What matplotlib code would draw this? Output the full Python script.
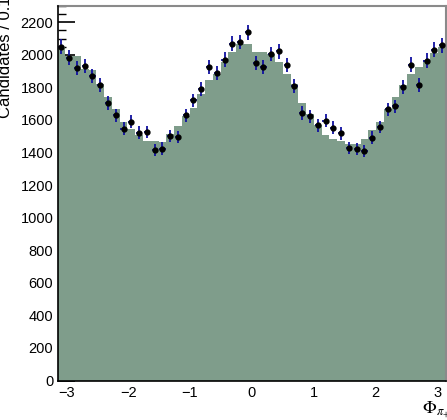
import matplotlib
matplotlib.use("Agg")
import matplotlib.pyplot as plt
import numpy as np

plt.rcParams['font.family'] = ['Liberation Sans', 'DejaVu Sans']
plt.rcParams['mathtext.fontset'] = 'stix'

# 50 bins in phi over [-pi, pi]
n_bins = 50
edges = np.linspace(-np.pi, np.pi, n_bins + 1)
centers = 0.5 * (edges[:-1] + edges[1:])

# measured candidates per bin
data = [2049, 1983, 1920, 1930, 1870, 1817, 1705, 1629, 1547, 1588,
        1522, 1526, 1414, 1424, 1502, 1496, 1629, 1721, 1789, 1926,
        1889, 1971, 2069, 2079, 2140, 1950, 1926, 2006, 2022, 1936,
        1809, 1643, 1624, 1567, 1596, 1553, 1518, 1430, 1420, 1411,
        1491, 1557, 1666, 1684, 1801, 1940, 1813, 1965, 2032, 2059]

# model histogram
model = [2050, 1995, 1990, 1915, 1905, 1823, 1742, 1670, 1588, 1547,
         1506, 1470, 1472, 1465, 1512, 1561, 1627, 1676, 1758, 1848,
         1881, 1957, 2018, 2069, 2069, 2015, 2015, 2007, 1957, 1881,
         1820, 1704, 1635, 1570, 1506, 1482, 1473, 1455, 1452, 1485,
         1537, 1585, 1670, 1740, 1815, 1883, 1926, 1970, 2010, 2050]

fig = plt.figure(figsize=(4.47, 4.20), dpi=100)
ax = fig.add_axes([57.5 / 447, 1 - 380.5 / 420, (446 - 57.5) / 447, (380.5 - 6) / 420])
ax.set_axisbelow(True)  # fill hides the ticks, like the ROOT canvas

ax.stairs(model, edges, fill=True, color='#7f9d8b', zorder=1)

data = np.array(data)
ax.errorbar(centers, data, yerr=np.sqrt(data), xerr=0.5 * (edges[1] - edges[0]) * 0.8,
            fmt='o', color='black', ms=3.5, ecolor='#1010a0', elinewidth=1.3,
            capsize=0, zorder=3)

ax.set_xlim(-np.pi, np.pi)
ax.set_ylim(0, 2300)
ax.set_yticks(np.arange(0, 2201, 200))
ax.set_yticks(np.arange(0, 2301, 50), minor=True)
ax.set_xticks([-3, -2, -1, 0, 1, 2, 3])
ax.set_xticklabels(['\u22123', '\u22122', '\u22121', '0', '1', '2', '3'])

ax.tick_params(axis='y', which='major', direction='in', length=12, width=1.2,
               labelsize=10.5, pad=3)
ax.tick_params(axis='y', which='minor', direction='in', length=6, width=1)
ax.tick_params(axis='x', which='both', length=0, labelsize=10.5, pad=4)

for side in ['top', 'right']:
    ax.spines[side].set_color('#8a8a8a')
    ax.spines[side].set_linewidth(1.5)
for side in ['left', 'bottom']:
    ax.spines[side].set_color('black')
    ax.spines[side].set_linewidth(1.2)
    ax.spines[side].set_zorder(5)

fig.text(0.012, 1.03, 'Candidates / 0.13', rotation=90, ha='center', va='top',
         fontsize=12)
fig.text(0.945, 1 - 410 / 420, r'$\Phi_{\pi_{+}}$', ha='left', va='center',
         fontsize=13)

fig.savefig('out.png', dpi=100)
